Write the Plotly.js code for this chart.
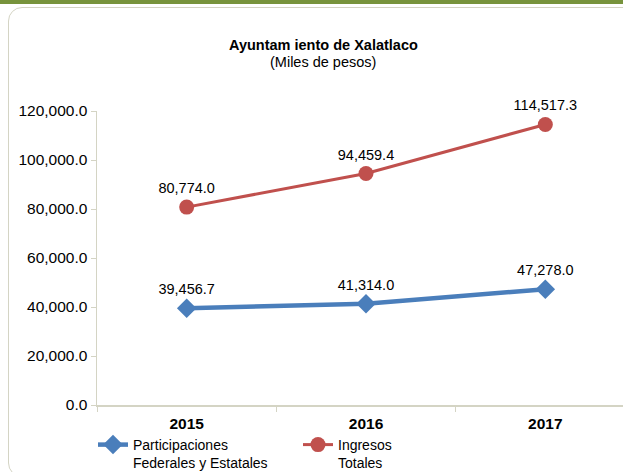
<!DOCTYPE html>
<html>
<head>
<meta charset="utf-8">
<script src="https://cdn.plot.ly/plotly-3.0.1.min.js"></script>
<style>
  html, body { margin:0; padding:0; width:623px; height:472px; overflow:hidden; background:#ffffff; }
  #topbar { position:absolute; left:0; top:0; width:623px; height:4px; background:#77933c; }
  #frame { position:absolute; left:8px; top:7px; width:700px; height:468px; border:1.5px solid #d4d4c4; border-radius:14px; }
  #chart { position:absolute; left:0; top:0; width:680px; height:472px; }
</style>
</head>
<body>
<div id="topbar"></div>
<div id="frame"></div>
<div id="chart"></div>
<script>
const years = ["2015", "2016", "2017"];
const participaciones = [39456.7, 41314.0, 47278.0];
const ingresos = [80774.0, 94459.4, 114517.3];
const seriesNames = ["Participaciones<br>Federales y Estatales", "Ingresos<br>Totales"];
const yTicks = [0, 20000, 40000, 60000, 80000, 100000, 120000];
const titleText = "Ayuntam iento de Xalatlaco";
const subtitleText = "(Miles de pesos)";

const fmt = v => v.toLocaleString('en-US', {minimumFractionDigits:1, maximumFractionDigits:1});
const font = "Liberation Sans, Arial, sans-serif";

const traces = [
  {
    x: years, y: participaciones, name: seriesNames[0], type: 'scatter', mode: 'lines+markers+text',
    line: {color:'#4a7ebb', width:4.5},
    marker: {symbol:'diamond', size:15, color:'#4a7ebb'},
    text: participaciones.map(fmt), textposition:'top center',
    textfont: {family:font, size:14.5, color:'#000000'},
    cliponaxis:false
  },
  {
    x: years, y: ingresos, name: seriesNames[1], type: 'scatter', mode: 'lines+markers+text',
    line: {color:'#c0504d', width:3},
    marker: {symbol:'circle', size:15, color:'#c0504d'},
    text: ingresos.map(fmt), textposition:'top center',
    textfont: {family:font, size:14.5, color:'#000000'},
    cliponaxis:false
  }
];

const layout = {
  width: 680, height: 472,
  margin: {l:97, r:45, t:111, b:67, autoexpand:false},
  paper_bgcolor:'rgba(0,0,0,0)', plot_bgcolor:'rgba(0,0,0,0)',
  font: {family:font, size:14, color:'#000000'},
  annotations: [
    {text:'<b>'+titleText+'</b>', xref:'paper', yref:'paper', x:(323-97)/538, y:(405-45)/294,
     xanchor:'center', yanchor:'middle', showarrow:false, font:{family:font, size:14.5, color:'#000000'}},
    {text:subtitleText, xref:'paper', yref:'paper', x:(323-97)/538, y:(405-62)/294,
     xanchor:'center', yanchor:'middle', showarrow:false, font:{family:font, size:14.5, color:'#000000'}}
  ],
  xaxis: {
    type:'category', tickson:'boundaries', ticks:'outside', ticklen:5, tickcolor:'#d4d4c4',
    showline:true, linecolor:'#d4d4c4', linewidth:1.5, showgrid:false, zeroline:false,
    tickfont:{family:font, size:15.5, color:'#000000', weight:'bold'},
    ticklabelstandoff:4,
    range:[-0.5, 2.5], fixedrange:true
  },
  yaxis: {
    range:[0, 120000], tickvals: yTicks, ticktext: yTicks.map(fmt),
    ticks:'outside', ticklen:5, tickcolor:'#d4d4c4',
    showline:true, linecolor:'#d4d4c4', linewidth:1.5, showgrid:false, zeroline:false,
    tickfont:{family:font, size:15.5, color:'#000000'}, fixedrange:true
  },
  showlegend:true,
  legend: {
    orientation:'h', x: (93-97)/538, xanchor:'left', y: (405-429)/294, yanchor:'top',
    valign:'top', traceorder:'normal', entrywidth:160, entrywidthmode:'pixels',
    font:{family:font, size:14, color:'#000000'}, bgcolor:'rgba(0,0,0,0)'
  }
};

Plotly.newPlot('chart', traces, layout, {displayModeBar:false, staticPlot:true});
</script>
</body>
</html>
